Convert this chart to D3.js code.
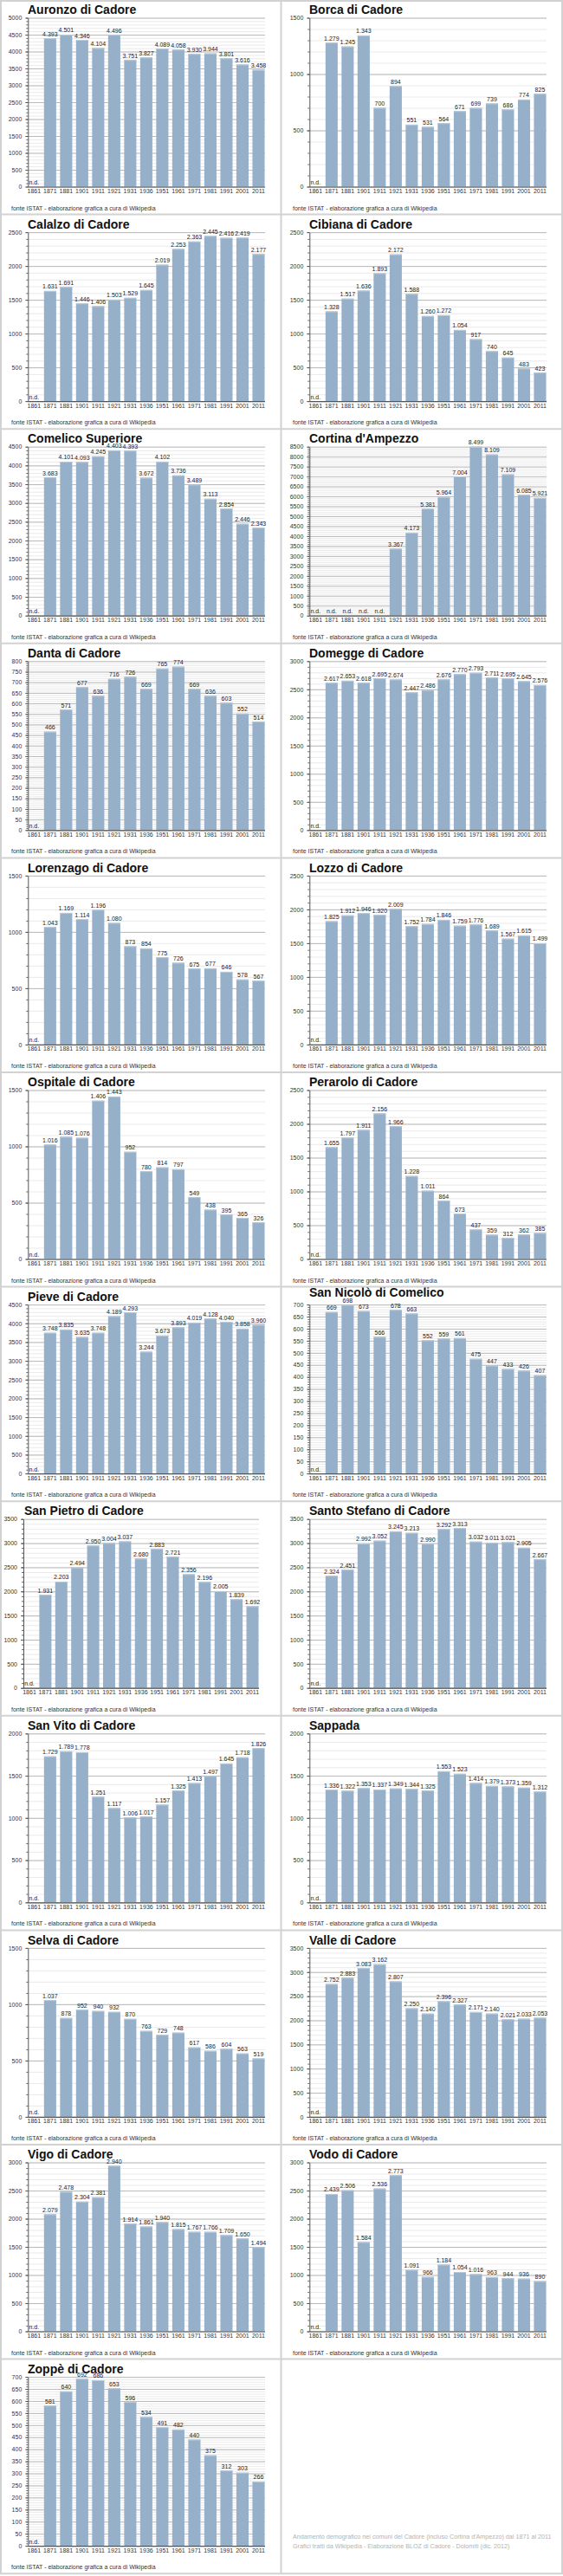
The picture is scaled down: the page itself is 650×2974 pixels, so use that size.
<!DOCTYPE html>
<html>
<head>
<meta charset="utf-8">
<script src="https://cdn.jsdelivr.net/npm/d3@7"></script>
<style>
body { margin: 0; background: #fff; }
svg { display: block; }
</style>
</head>
<body>
<svg id="chart" width="650" height="2974"></svg>
<script>
// anni dei censimenti
let years = ['1861', '1871', '1881', '1901', '1911', '1921', '1931', '1936', '1951', '1961', '1971', '1981', '1991', '2001', '2011'];

let comuni = [
	'Auronzo di Cadore', 'Borca di Cadore',
	'Calalzo di Cadore', 'Cibiana di Cadore',
	'Comelico Superiore', "Cortina d'Ampezzo",
	'Danta di Cadore', 'Domegge di Cadore',
	'Lorenzago di Cadore', 'Lozzo di Cadore',
	'Ospitale di Cadore', 'Perarolo di Cadore',
	'Pieve di Cadore', 'San Nicolò di Comelico',
	'San Pietro di Cadore', 'Santo Stefano di Cadore',
	'San Vito di Cadore', 'Sappada',
	'Selva di Cadore', 'Valle di Cadore',
	'Vigo di Cadore', 'Vodo di Cadore',
	'Zoppè di Cadore'
];

// massimo e passo dell'asse y
let yMax  = [5000, 1500, 2500, 2500, 4500, 8500, 800, 3000, 1500, 2500, 1500, 2500, 4500, 700, 3500, 3500, 2000, 2000, 1500, 3500, 3000, 3000, 700];
let yStep = [500, 500, 500, 500, 500, 500, 50, 500, 500, 500, 500, 500, 500, 50, 500, 500, 500, 500, 500, 500, 500, 500, 50];

// popolazione (null = n.d.)
let auronzo    = [null, 4393, 4501, 4346, 4104, 4496, 3751, 3827, 4089, 4058, 3930, 3944, 3801, 3616, 3458];
let borca      = [null, 1279, 1245, 1343, 700, 894, 551, 531, 564, 671, 699, 739, 686, 774, 825];
let calalzo    = [null, 1631, 1691, 1446, 1406, 1503, 1529, 1645, 2019, 2253, 2363, 2445, 2416, 2419, 2177];
let cibiana    = [null, 1328, 1517, 1636, 1893, 2172, 1588, 1260, 1272, 1054, 917, 740, 645, 483, 423];
let comelico   = [null, 3683, 4101, 4093, 4245, 4403, 4393, 3672, 4102, 3736, 3489, 3113, 2854, 2446, 2343];
let cortina    = [null, null, null, null, null, 3367, 4173, 5381, 5964, 7004, 8499, 8109, 7109, 6085, 5921];
let danta      = [null, 466, 571, 677, 636, 716, 726, 669, 765, 774, 669, 636, 603, 552, 514];
let domegge    = [null, 2617, 2653, 2618, 2695, 2674, 2447, 2486, 2676, 2770, 2793, 2711, 2695, 2645, 2576];
let lorenzago  = [null, 1043, 1169, 1114, 1196, 1080, 873, 854, 775, 726, 675, 677, 646, 578, 567];
let lozzo      = [null, 1825, 1912, 1946, 1920, 2009, 1752, 1784, 1846, 1759, 1776, 1689, 1567, 1615, 1499];
let ospitale   = [null, 1016, 1085, 1076, 1406, 1443, 952, 780, 814, 797, 549, 438, 395, 365, 326];
let perarolo   = [null, 1655, 1797, 1911, 2156, 1966, 1228, 1011, 864, 673, 437, 359, 312, 362, 385];
let pieve      = [null, 3748, 3835, 3635, 3748, 4189, 4293, 3244, 3673, 3893, 4019, 4128, 4040, 3858, 3960];
let sanNicolo  = [null, 669, 698, 673, 566, 678, 663, 552, 559, 561, 475, 447, 433, 426, 407];
let sanPietro  = [null, 1931, 2203, 2494, 2950, 3004, 3037, 2680, 2883, 2721, 2356, 2196, 2005, 1839, 1692];
let santoStefano = [null, 2324, 2451, 2992, 3052, 3245, 3213, 2990, 3292, 3313, 3032, 3011, 3021, 2905, 2667];
let sanVito    = [null, 1729, 1789, 1778, 1251, 1117, 1006, 1017, 1157, 1325, 1413, 1497, 1645, 1718, 1826];
let sappada    = [null, 1336, 1322, 1353, 1337, 1349, 1344, 1325, 1553, 1523, 1414, 1379, 1373, 1359, 1312];
let selva      = [null, 1037, 878, 952, 940, 932, 870, 763, 729, 748, 617, 586, 604, 563, 519];
let valle      = [null, 2752, 2883, 3083, 3162, 2807, 2250, 2140, 2396, 2327, 2171, 2140, 2021, 2033, 2053];
let vigo       = [null, 2079, 2478, 2304, 2381, 2940, 1914, 1861, 1940, 1815, 1767, 1766, 1709, 1650, 1494];
let vodo       = [null, 2439, 2506, 1584, 2536, 2773, 1091, 966, 1184, 1054, 1016, 963, 944, 936, 890];
let zoppe      = [null, 581, 640, 692, 686, 653, 596, 534, 491, 482, 440, 375, 312, 303, 266];

let series = [auronzo, borca, calalzo, cibiana, comelico, cortina, danta, domegge, lorenzago, lozzo,
	ospitale, perarolo, pieve, sanNicolo, sanPietro, santoStefano, sanVito, sappada, selva, valle,
	vigo, vodo, zoppe];

let fonte = 'fonte ISTAT - elaborazione grafica a cura di Wikipedia';
let nota = [
	"Andamento demografico nei comuni del Cadore (incluso Cortina d'Ampezzo) dal 1871 al 2011",
	'Grafici tratti da Wikipedia - Elaborazione BLOZ di Cadore - Dolomiti (dic. 2012)'
];

let smallFont = "'Liberation Sans Narrow', 'Arial Narrow', sans-serif";
let titleFont = "'Liberation Sans', Arial, sans-serif";
let barColor = '#97b0ca';

let colW = 325;
let rowH = 247.6;

// piccoli aggiustamenti di impaginazione per alcuni pannelli
let tweaks = {
	13: { titleY: 11 },
	14: { left: 27, right: 299, titleX: 28 }
};

let fmt = d3.formatLocale({ decimal: ',', thousands: '.', grouping: [3], currency: ['', ''] }).format(',d');

let svg = d3.select('#chart');

comuni.forEach(function(name, i) {
	let col = i % 2;
	let row = Math.floor(i / 2);
	let g = svg.append('g')
		.attr('transform', 'translate(' + (col * colW) + ', ' + (row * rowH) + ')');
	drawPanel(g, i);
});

// nota finale nel pannello vuoto
let notaG = svg.append('g')
	.attr('transform', 'translate(' + colW + ', ' + (11 * rowH) + ')');
notaG.selectAll('text')
	.data(nota)
	.join('text')
	.attr('x', 13)
	.attr('y', (d, k) => 207 + k * 11)
	.attr('font-family', smallFont)
	.attr('font-size', 7.2)
	.attr('fill', '#b3b3b3')
	.text(d => d);

// bordi della griglia
let borders = svg.append('g')
	.attr('stroke', '#d2d2d2')
	.attr('stroke-width', 2)
	.attr('fill', 'none');
d3.range(0, 13).forEach(function(k) {
	let yy = Math.min(k * rowH, 2972) + (k === 0 ? 1 : 0);
	borders.append('line').attr('x1', 0).attr('x2', 650).attr('y1', yy).attr('y2', yy);
});
[1, 324.5, 649].forEach(function(xx) {
	borders.append('line').attr('x1', xx).attr('x2', xx).attr('y1', 0).attr('y2', 12 * rowH);
});

function drawPanel(g, i) {
	let tw = tweaks[i] || {};
	let left = tw.left || 32.3;
	let right = tw.right || 306;
	let top = 20.5;
	let bottom = 215.5;
	let data = series[i];

	let x = d3.scaleBand()
		.domain(years)
		.range([left, right - 0.5])
		.paddingInner(0.24)
		.paddingOuter(0);

	let y = d3.scaleLinear()
		.domain([0, yMax[i]])
		.range([bottom, top]);

	let minorStep = yStep[i] / 5;
	let minorVals = d3.range(0, yMax[i] + minorStep / 2, minorStep);
	let majorVals = d3.range(0, yMax[i] + yStep[i] / 2, yStep[i]);

	// griglia minore
	let minorGrid = g.append('g')
		.attr('transform', 'translate(' + left + ', 0)')
		.call(d3.axisRight(y).tickValues(minorVals).tickSize(right - left).tickFormat(''));
	minorGrid.select('.domain').remove();
	minorGrid.selectAll('line').attr('stroke', '#e4e4e4').attr('stroke-width', 0.8);

	// griglia maggiore
	let majorGrid = g.append('g')
		.attr('transform', 'translate(' + left + ', 0)')
		.call(d3.axisRight(y).tickValues(majorVals).tickSize(right - left).tickFormat(''));
	majorGrid.select('.domain').remove();
	majorGrid.selectAll('line').attr('stroke', '#b4b4b4').attr('stroke-width', 0.9);

	// barre
	let rows = years.map((yr, k) => ({ year: yr, value: data[k] }));
	g.append('g')
		.selectAll('rect')
		.data(rows.filter(d => d.value !== null))
		.join('rect')
		.attr('x', d => x(d.year))
		.attr('y', d => y(d.value))
		.attr('width', x.bandwidth())
		.attr('height', d => bottom - y(d.value))
		.attr('fill', barColor);

	// piccola luce sul bordo superiore delle barre
	g.append('g')
		.selectAll('line')
		.data(rows.filter(d => d.value !== null))
		.join('line')
		.attr('x1', d => x(d.year))
		.attr('x2', d => x(d.year) + x.bandwidth())
		.attr('y1', d => y(d.value) + 0.5)
		.attr('y2', d => y(d.value) + 0.5)
		.attr('stroke', '#b9cadb')
		.attr('stroke-width', 1);

	// asse y con tacche
	let yMinor = g.append('g')
		.attr('transform', 'translate(' + left + ', 0)')
		.call(d3.axisLeft(y).tickValues(minorVals).tickSize(2).tickSizeOuter(0).tickFormat(''));
	yMinor.select('.domain').remove();
	yMinor.selectAll('line').attr('stroke', '#666');

	let yAxis = g.append('g')
		.attr('transform', 'translate(' + left + ', 0)')
		.call(d3.axisLeft(y).tickValues(majorVals).tickSize(3).tickSizeOuter(0).tickPadding(4).tickFormat(d3.format('d')));
	yAxis.select('.domain').attr('stroke', '#555');
	yAxis.selectAll('line').attr('stroke', '#555');
	yAxis.selectAll('text')
		.attr('font-family', smallFont)
		.attr('font-size', 7)
		.attr('fill', '#333');

	// linea dello zero
	g.append('line')
		.attr('x1', left)
		.attr('x2', right)
		.attr('y1', bottom + 0.5)
		.attr('y2', bottom + 0.5)
		.attr('stroke', '#555')
		.attr('stroke-width', 1.2);

	// asse x
	let xAxis = g.append('g')
		.attr('transform', 'translate(0, ' + bottom + ')')
		.call(d3.axisBottom(x).tickSize(0).tickPadding(2.5));
	xAxis.select('.domain').remove();
	xAxis.selectAll('text')
		.attr('font-family', smallFont)
		.attr('font-size', 7)
		.attr('fill', '#333');

	// etichette dei valori
	g.append('g')
		.selectAll('text')
		.data(rows)
		.join('text')
		.attr('x', d => x(d.year) + x.bandwidth() / 2)
		.attr('y', d => (d.value === null ? y(0) : y(d.value)) - 2.5)
		.attr('text-anchor', 'middle')
		.attr('font-family', smallFont)
		.attr('font-size', 7)
		.attr('fill', '#222')
		.text(d => d.value === null ? 'n.d.' : fmt(d.value));

	// titolo
	g.append('text')
		.attr('x', tw.titleX || 32)
		.attr('y', tw.titleY || 16.3)
		.attr('font-family', titleFont)
		.attr('font-weight', 'bold')
		.attr('font-size', 14)
		.attr('fill', '#111')
		.text(comuni[i]);

	// fonte
	g.append('text')
		.attr('x', 13)
		.attr('y', 242.5)
		.attr('font-family', smallFont)
		.attr('font-size', 7)
		.attr('fill', '#333')
		.text(fonte);
}
</script>
</body>
</html>
